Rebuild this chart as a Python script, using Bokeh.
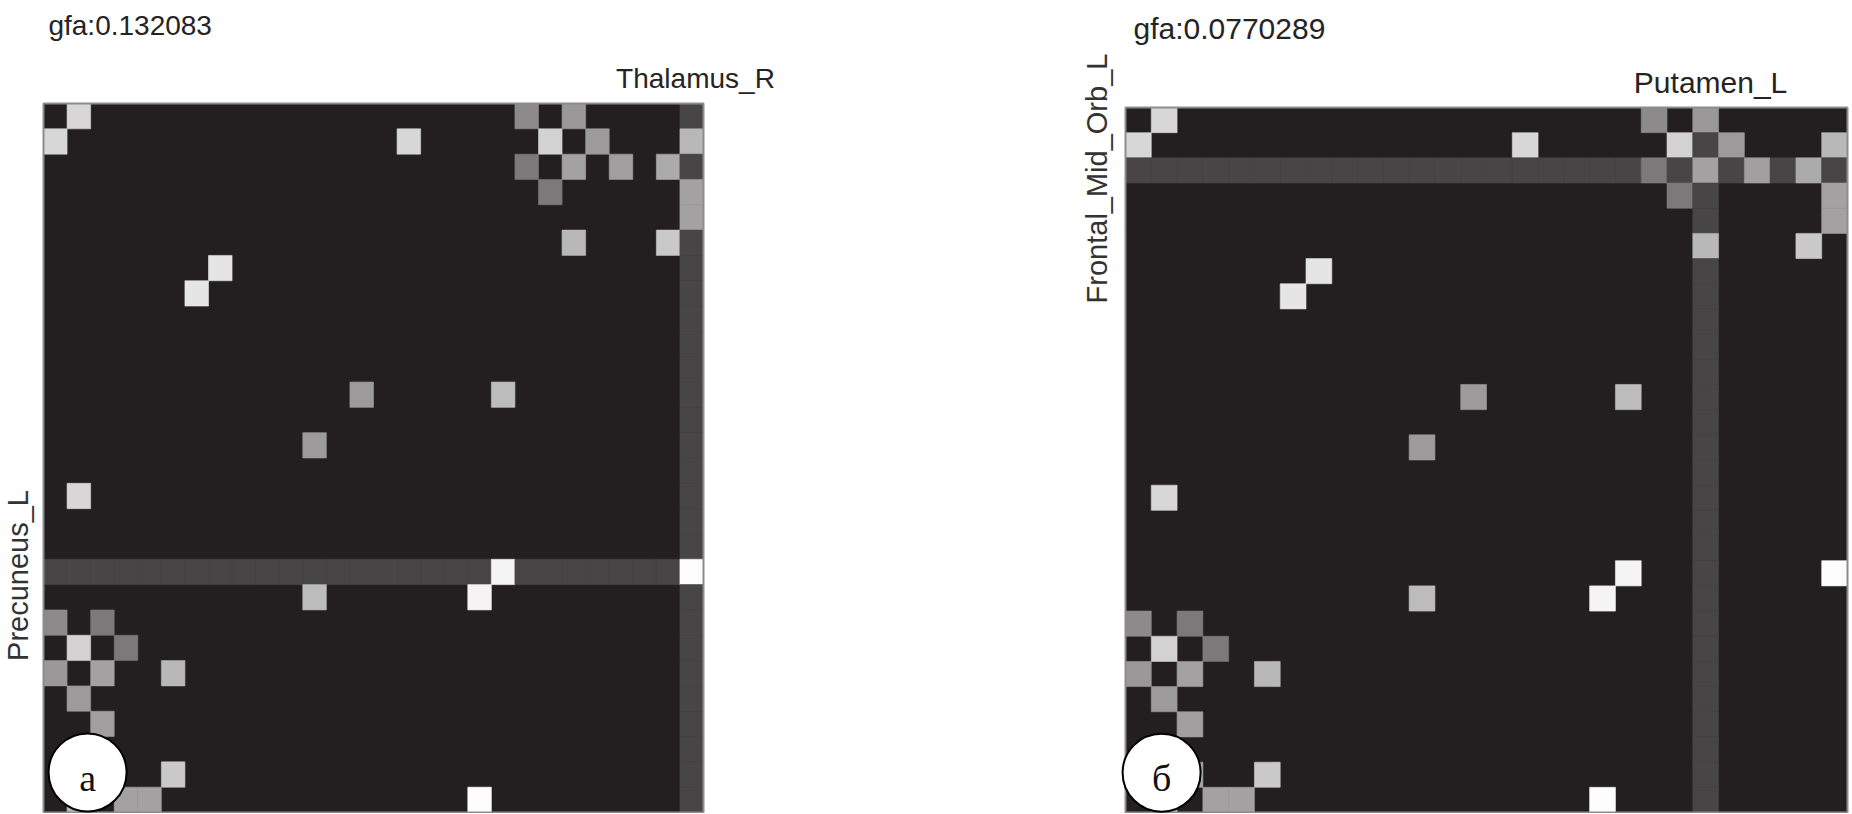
import math
import numpy as np
from bokeh.plotting import figure
from bokeh.layouts import row
from bokeh.models import Range1d, ColumnDataSource, LinearColorMapper
from bokeh.embed import file_html
from bokeh.resources import INLINE
from bokeh.core.properties import value

# ---------------- data ----------------
N = 28  # number of regions
# upper-triangle connections of the symmetric matrix (row, col, strength 0..1)
conn_i = [0, 0, 0, 1, 1, 1, 1, 2, 2, 2, 2, 3, 3, 4, 5, 5, 6, 11, 11, 18, 18]
conn_j = [1, 20, 22, 15, 21, 23, 27, 20, 22, 24, 26, 21, 27, 27, 22, 26, 7, 13, 19, 19, 27]
conn_v = [0.82, 0.48, 0.54, 0.82, 0.80, 0.55, 0.68, 0.40, 0.58, 0.57, 0.62, 0.40, 0.58, 0.58,
          0.68, 0.76, 0.88, 0.55, 0.70, 0.95, 0.99]

band_value = 0.17  # grey level of the highlighted row / column

gfa_values = ["0.132083", "0.0770289"]
hl_rows = [18, 2]
hl_cols = [27, 22]
row_labels = ["Precuneus_L", "Frontal_Mid_Orb_L"]
col_labels = ["Thalamus_R", "Putamen_L"]
panel_marks = ["а", "б"]

# ---------------- build ----------------
M = np.zeros((N, N))
for i, j, v in zip(conn_i, conn_j, conn_v):
    M[i, j] = v
    M[j, i] = v

bg = (35, 31, 32)
BG_HEX = "#%02x%02x%02x" % bg
palette = []
for k in range(256):
    t = k / 255
    r, g, b = (round(c + (255 - c) * t) for c in bg)
    palette.append("#%02x%02x%02x" % (r, g, b))
mapper = LinearColorMapper(palette=palette, low=0, high=1)

TEXT_COLOR = "#262324"
FIG_H = 813


def panel(idx, fig_x0, fig_w, mx0, mx1, my0, my1, hfont, vfont,
          gfa_xy, col_dx, row_x, row_dy, badge_x):
    # pixel geometry of the matrix inside this figure -> data ranges
    ux = (mx1 - mx0) / N
    uy = (my1 - my0) / N
    xr = Range1d((fig_x0 - mx0) / ux, (fig_x0 + fig_w - mx0) / ux)
    yr = Range1d((FIG_H - my0) / uy, (0 - my0) / uy)

    hr, hc = hl_rows[idx], hl_cols[idx]
    xs, ys, vs = [], [], []
    for r in range(N):
        for c in range(N):
            v = M[r, c]
            if v == 0 and (r == hr or c == hc):
                v = band_value
            if v > 0:
                xs.append(c + 0.5)
                ys.append(r + 0.5)
                vs.append(v)
    src = ColumnDataSource(dict(x=xs, y=ys, v=vs))

    p = figure(width=fig_w, height=FIG_H, output_backend="svg", toolbar_location=None,
               x_range=xr, y_range=yr, x_axis_type=None, y_axis_type=None,
               min_border=0, background_fill_color="white", border_fill_color="white",
               outline_line_color=None)
    p.grid.visible = False

    p.rect([N / 2], [N / 2], width=N, height=N, fill_color=BG_HEX, line_color=None)
    p.rect("x", "y", width=1, height=1, source=src,
           fill_color={"field": "v", "transform": mapper},
           line_color={"field": "v", "transform": mapper}, line_width=0.6)
    p.rect([N / 2], [N / 2], width=N, height=N, fill_color=None,
           line_color="#8c8c8c", line_width=2)

    # titles / labels
    p.text([gfa_xy[0]], [gfa_xy[1]], text=["gfa:" + gfa_values[idx]],
           text_font=value("Liberation Sans"), text_font_size=hfont,
           text_color=TEXT_COLOR, text_align="left", text_baseline="middle")
    p.text([hc + 0.5 + col_dx], [-0.99], text=[col_labels[idx]],
           text_font=value("Liberation Sans"), text_font_size=hfont,
           text_color=TEXT_COLOR, text_align="center", text_baseline="middle")
    p.text([row_x], [hr + 0.5 + row_dy], text=[row_labels[idx]], angle=math.pi / 2,
           text_font=value("Liberation Sans"), text_font_size=vfont,
           text_color="#333333", text_align="center", text_baseline="middle")

    # panel badge
    badge_y = 26.42
    p.scatter([badge_x], [badge_y], marker="circle", size=78,
              fill_color="white", line_color="black", line_width=2)
    p.text([badge_x], [badge_y + 0.2], text=[panel_marks[idx]],
           text_font=value("Liberation Serif"), text_font_size="38px",
           text_color="#111111", text_align="center", text_baseline="alphabetic")
    return p


left = panel(0, 0, 1066, 43, 703, 103, 812, "28px", "29px",
             (0.21, -3.08), 0.16, -1.10, 0.14, 1.87)
right = panel(1, 1066, 784, 1125, 1847, 107, 812, "30px", "29px",
              (0.31, -3.14), 0.19, -1.09, 0.32, 1.40)

layout = row(left, right)
open("out.html", "w").write(file_html(layout, INLINE))
